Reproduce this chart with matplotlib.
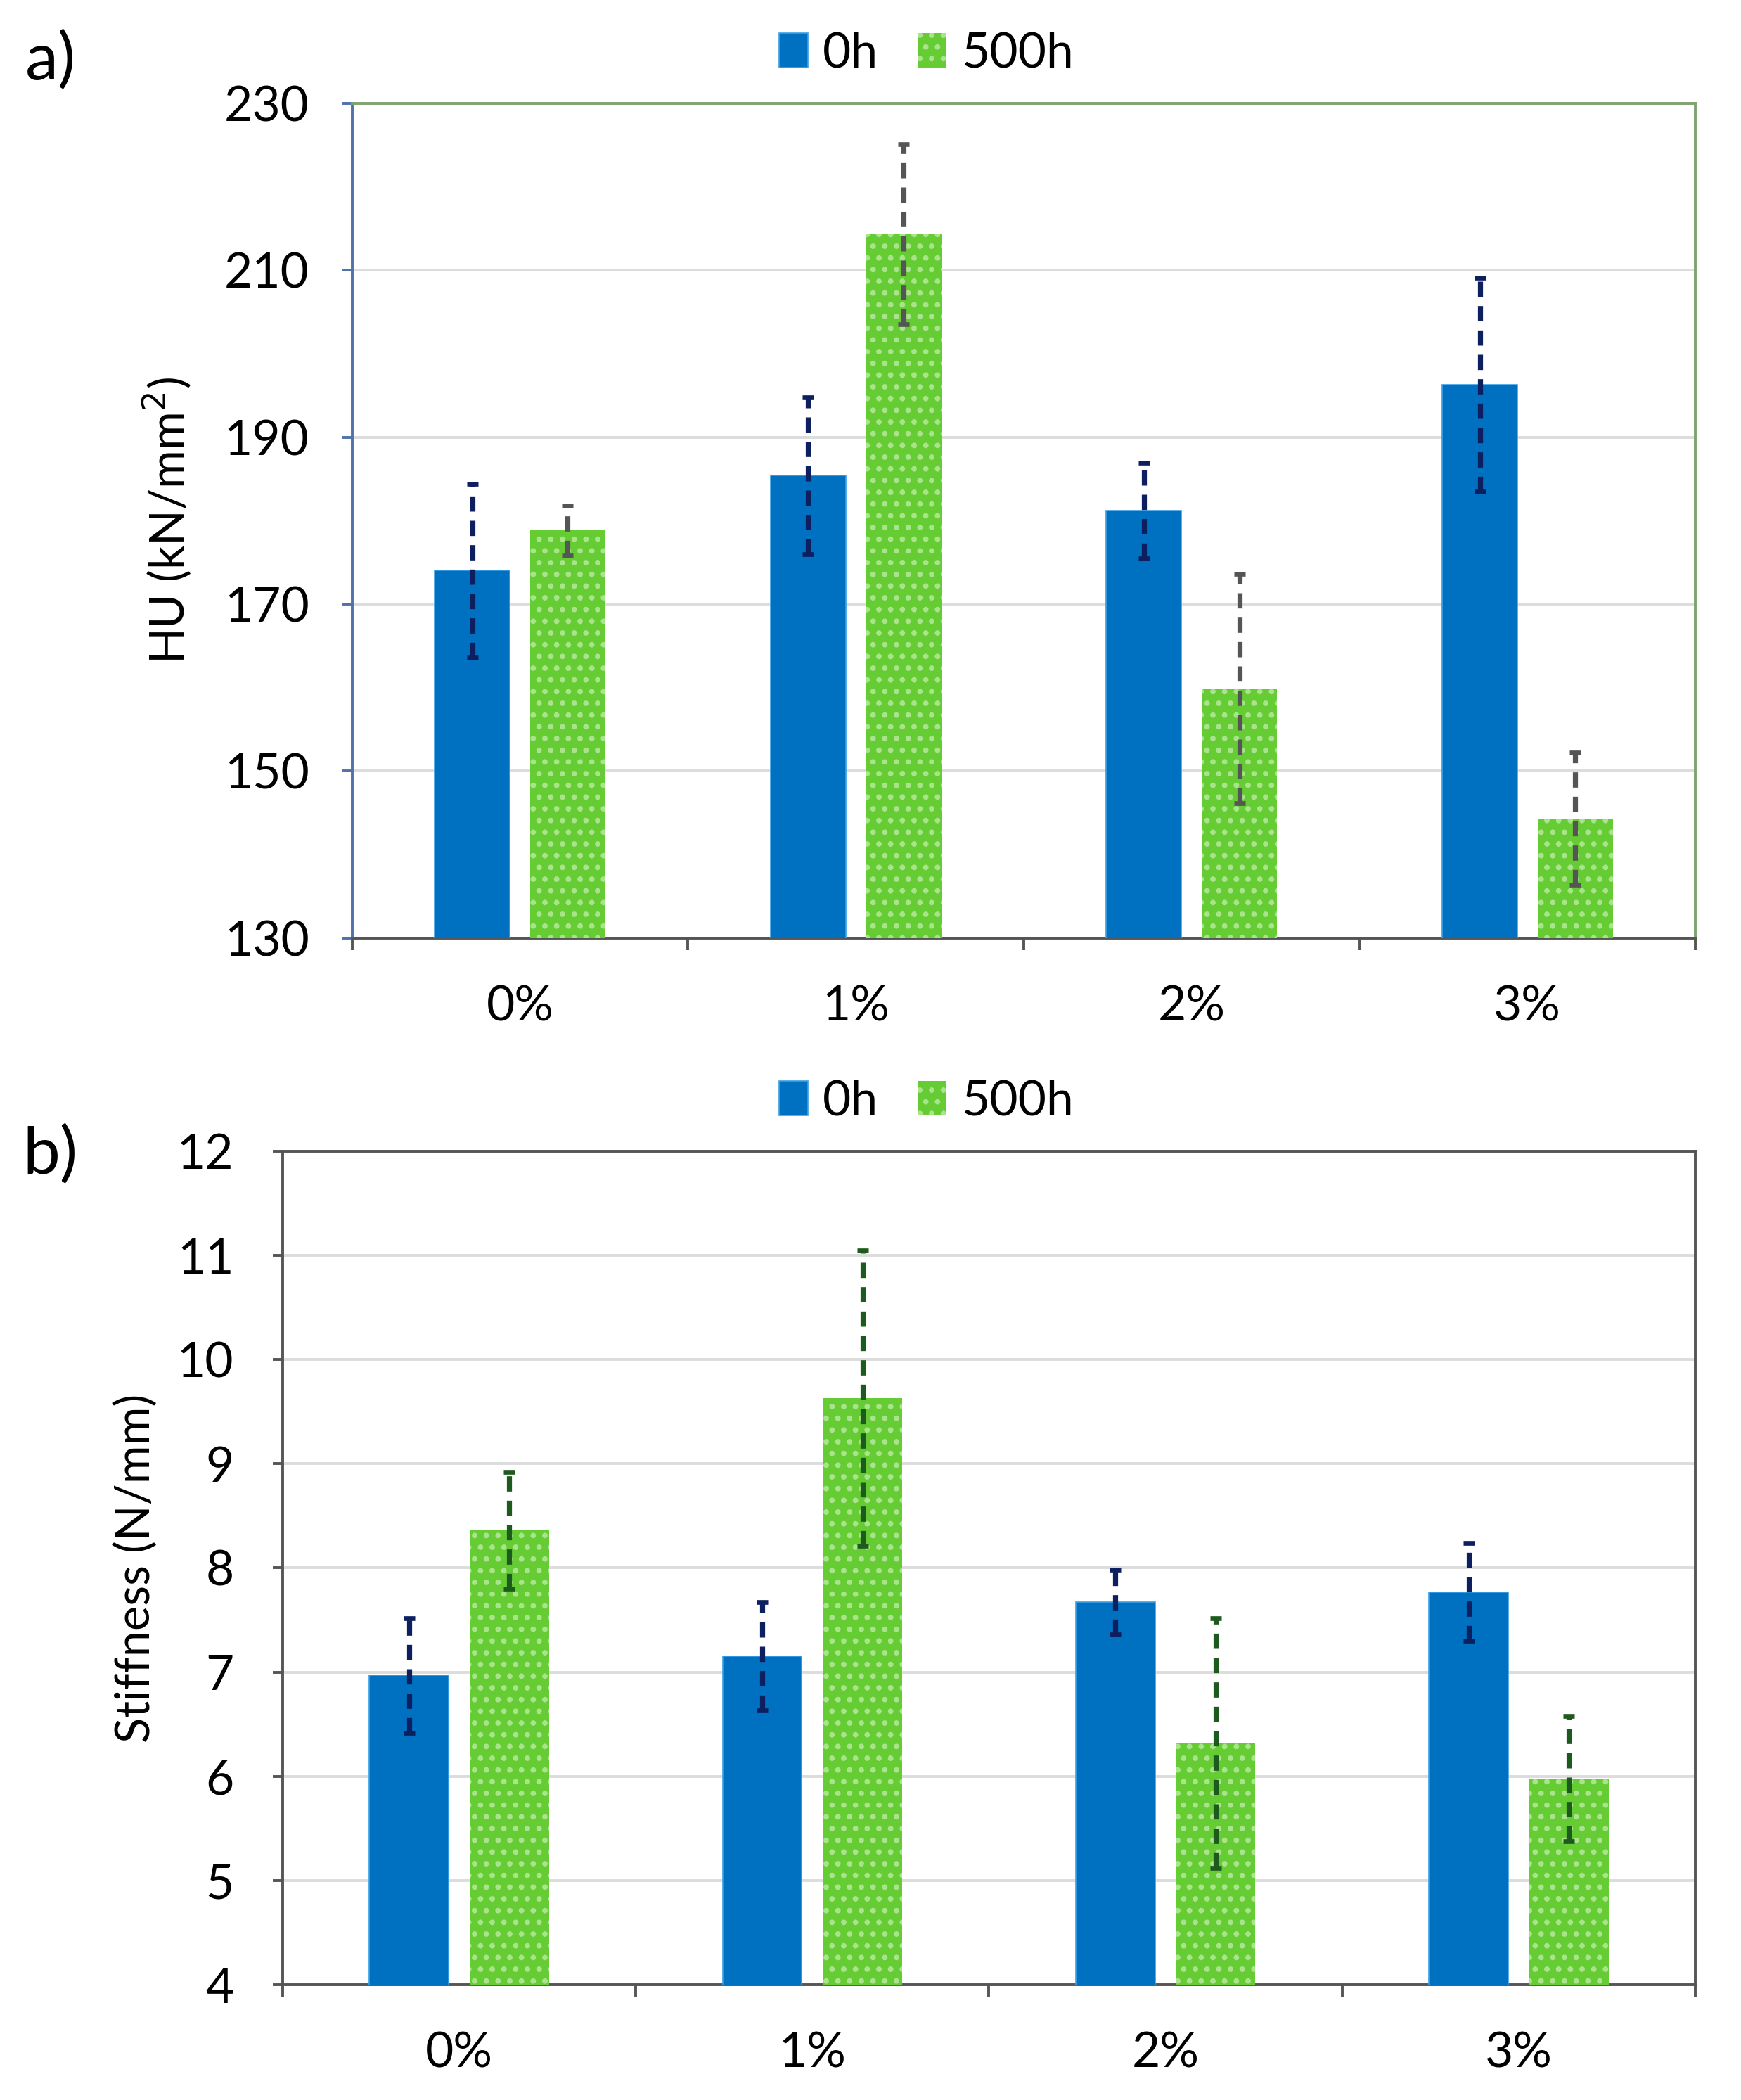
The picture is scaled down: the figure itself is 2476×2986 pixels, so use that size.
import matplotlib
matplotlib.use("Agg")
import matplotlib.pyplot as plt
import numpy as np

plt.rcParams['font.family'] = ['Lato', 'DejaVu Sans']
plt.rcParams['hatch.linewidth'] = 1.6

categories = ['0%', '1%', '2%', '3%']
series = ['0h', '500h']

hu_0h = [174.0, 185.4, 181.2, 196.3]
hu_0h_err = [10.4, 9.4, 5.7, 12.8]
hu_500h = [178.8, 214.3, 159.9, 144.3]
hu_500h_err = [3.0, 10.8, 13.7, 7.9]

st_0h = [6.97, 7.15, 7.67, 7.77]
st_0h_err = [0.55, 0.52, 0.31, 0.47]
st_500h = [8.36, 9.63, 6.32, 5.98]
st_500h_err = [0.56, 1.42, 1.20, 0.60]

hu_ticks = [130, 150, 170, 190, 210, 230]
st_ticks = [4, 5, 6, 7, 8, 9, 10, 11, 12]

BLUE = '#0070C0'
GREEN = '#66CC33'
DOTS = '#a9e38c'

fig = plt.figure(figsize=(12.38, 14.93), dpi=200)

def draw(ax, v0, e0, v1, e1, ticks, ecol0, ecol1, ylabel_text, spine_cols, tick_pad):
    x = np.arange(len(categories))
    w = 0.224
    off = 0.142
    b0 = ax.bar(x - off, v0, w, color=BLUE, edgecolor='#3aa0e8', linewidth=0.6,
                zorder=3, label=series[0])
    b1 = ax.bar(x + off, v1, w, color=GREEN, edgecolor=DOTS, linewidth=0,
                hatch='..', zorder=3, label=series[1])
    for xs, vs, es, c in [(x - off, v0, e0, ecol0), (x + off, v1, e1, ecol1)]:
        eb = ax.errorbar(xs, vs, yerr=es, fmt='none', ecolor=c, elinewidth=2.6,
                         capsize=3, capthick=2.4, zorder=4)
        eb[2][0].set_linestyle((0, (3.0, 1.8)))
    ax.set_xlim(-0.5, len(categories) - 0.5)
    ax.set_ylim(ticks[0], ticks[-1])
    ax.set_yticks(ticks)
    ax.set_xticks(x)
    ax.set_xticklabels(categories)
    ax.set_xticks(np.arange(len(categories) + 1) - 0.5, minor=True)
    ax.tick_params(axis='x', which='major', length=0, pad=24, labelsize=25)
    ax.tick_params(axis='x', which='minor', length=6, width=1.4,
                   color=spine_cols['bottom'], direction='out')
    ax.tick_params(axis='y', which='major', length=5, width=1.4,
                   color=spine_cols['left'], pad=tick_pad, labelsize=25)
    ax.yaxis.grid(True, color='#dcdcdc', linewidth=1.4, zorder=0)
    ax.set_axisbelow(True)
    for k, s in ax.spines.items():
        s.set_color(spine_cols[k])
        s.set_linewidth(1.4)
    ax.set_ylabel(ylabel_text, fontsize=24)
    return b0, b1

ax1 = fig.add_axes([0.2023, 0.5533, 0.9738 - 0.2023, 0.9509 - 0.5533])
h = draw(ax1, hu_0h, hu_0h_err, hu_500h, hu_500h_err, hu_ticks,
         '#0d1f5e', '#555555', 'HU (kN/mm$^2$)',
         {'left': '#4f72a8', 'top': '#7fa36f', 'right': '#7fa36f', 'bottom': '#555555'}, 17)
ax1.yaxis.set_label_coords(-0.118, 0.5)
ax1.legend(h, series, loc='center', bbox_to_anchor=(0.532, 0.9745),
           bbox_transform=fig.transFigure, ncol=2, frameon=False, fontsize=25,
           handlelength=0.6, handleheight=0.7, handletextpad=0.3, columnspacing=0.8)

ax2 = fig.add_axes([0.1623, 0.0549, 0.9738 - 0.1623, 0.4518 - 0.0549])
h2 = draw(ax2, st_0h, st_0h_err, st_500h, st_500h_err, st_ticks,
          '#0d1f5e', '#1d5a1d', 'Stiffness (N/mm)',
          {'left': '#555555', 'top': '#555555', 'right': '#555555', 'bottom': '#555555'}, 20)
ax2.yaxis.set_label_coords(-0.088, 0.5)
ax2.legend(h2, series, loc='center', bbox_to_anchor=(0.532, 0.4754),
           bbox_transform=fig.transFigure, ncol=2, frameon=False, fontsize=25,
           handlelength=0.6, handleheight=0.7, handletextpad=0.3, columnspacing=0.8)

fig.text(0.029, 0.971, 'a)', fontsize=34, ha='center', va='center')
fig.text(0.029, 0.450, 'b)', fontsize=34, ha='center', va='center')

fig.savefig('out.png', dpi=200)
